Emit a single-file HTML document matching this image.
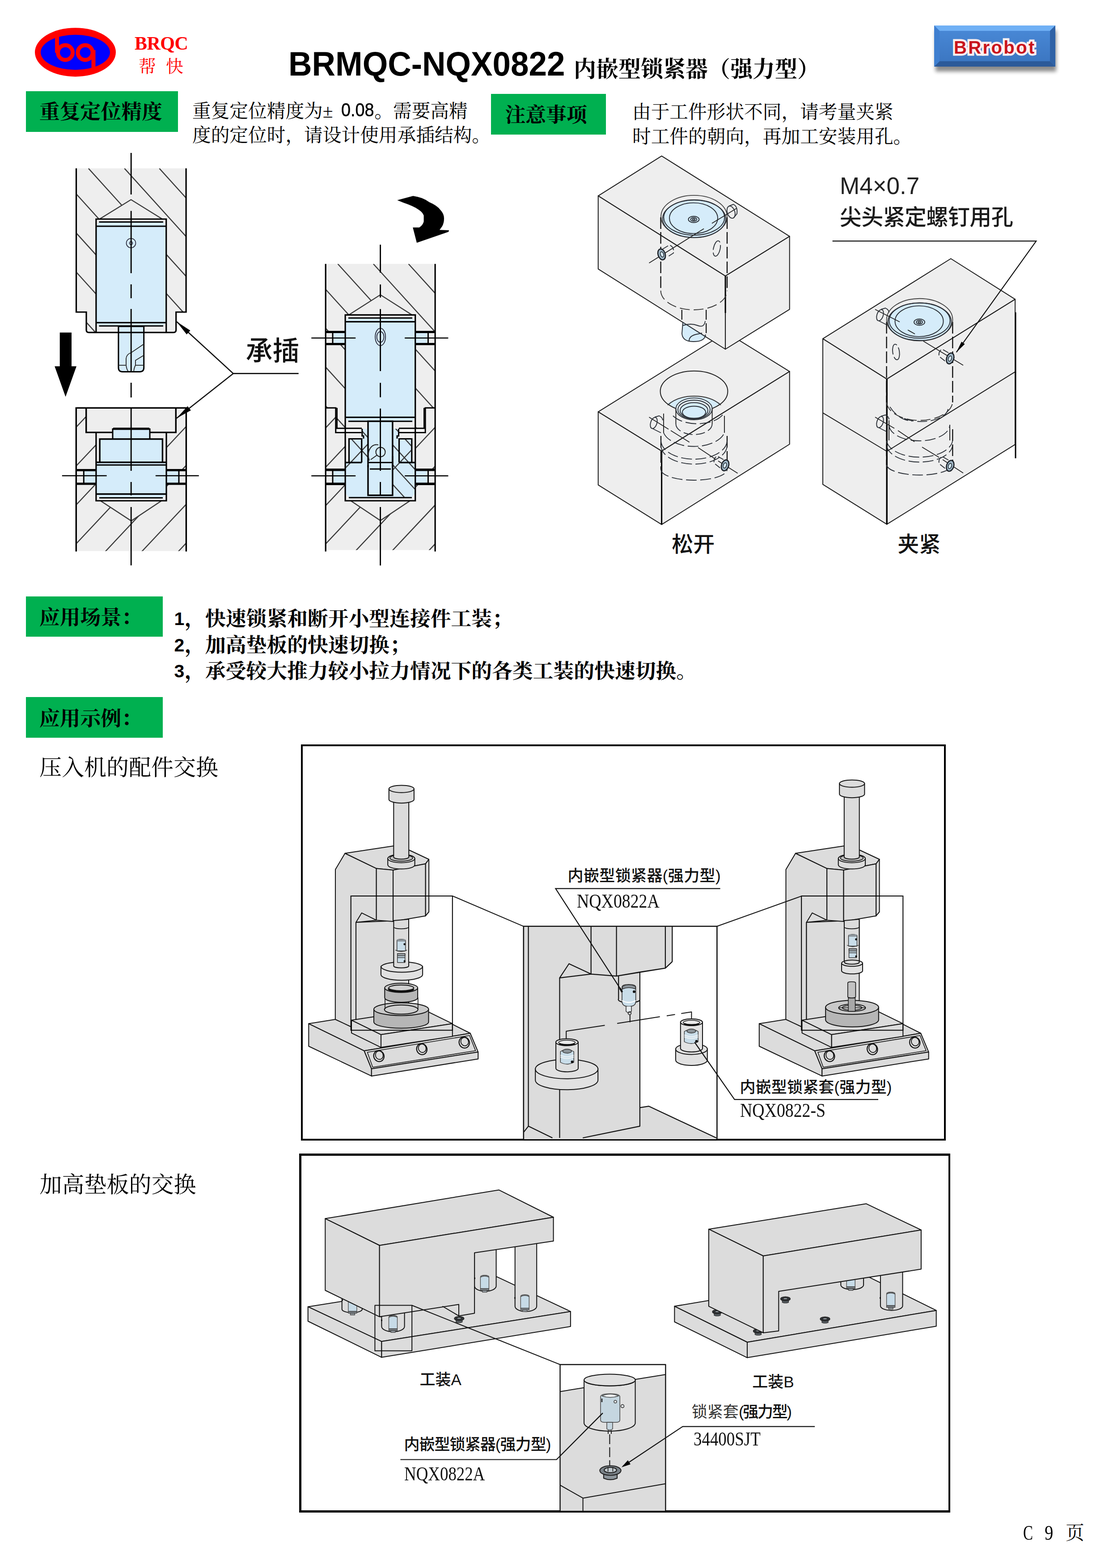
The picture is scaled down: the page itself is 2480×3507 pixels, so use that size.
<!DOCTYPE html>
<html lang="zh-CN">
<head>
<meta charset="utf-8">
<title>BRMQC-NQX0822 内嵌型锁紧器（强力型）</title>
<style>
html,body{margin:0;padding:0;background:#fff;}
body{width:2480px;height:3507px;position:relative;overflow:hidden;font-family:"Liberation Sans",sans-serif;color:#000;}
.a{position:absolute;white-space:nowrap;line-height:1;}
.se{font-family:"Liberation Serif",serif;}
.sa{font-family:"Liberation Sans",sans-serif;}
.b{font-weight:bold;}
.g{position:absolute;background:#00b050;}
.fr{position:absolute;border:4px solid #000;box-sizing:border-box;background:#fff;}
svg{position:absolute;left:0;top:0;overflow:visible;}
.cs{font-family:"Liberation Serif","Noto Serif CJK SC",serif;}
.cg{font-family:"Liberation Sans","Noto Sans CJK SC",sans-serif;font-weight:500;}
</style>
</head>
<body>

<!-- ===== header ===== -->
<svg width="2480" height="360" viewBox="0 0 2480 360">
  <defs>
    <linearGradient id="btn" x1="0" y1="0" x2="0" y2="1">
      <stop offset="0" stop-color="#4a8ad8"/><stop offset="1" stop-color="#3a74bf"/>
    </linearGradient>
    <filter id="sh" x="-10%" y="-20%" width="120%" height="160%"><feGaussianBlur stdDeviation="4"/></filter>
  </defs>
  <ellipse cx="168.5" cy="116.8" rx="90.5" ry="54.6" fill="#ff0000"/>
  <ellipse cx="168.5" cy="117" rx="77.5" ry="39.3" fill="#0000ff"/>
  <g fill="none" stroke="#ff0000" stroke-width="9">
    <circle cx="146" cy="117.5" r="16.5"/>
    <circle cx="190.5" cy="117.5" r="16.5"/>
    <path d="M127.5 80 V118"/>
    <path d="M209 112 V154"/>
  </g>
  <!-- BRrobot button -->
  <rect x="2092" y="68" width="270" height="92" fill="#000" opacity=".45" filter="url(#sh)"/>
  <rect x="2089" y="57" width="271" height="92" fill="url(#btn)"/>
  <path d="M2089 57 H2360 L2348 69 H2101 Z" fill="#6fb0f5"/>
  <path d="M2089 149 H2360 L2348 137 H2101 Z" fill="#2c5a99"/>
  <path d="M2089 57 L2101 69 V137 L2089 149 Z" fill="#3f7fd0"/>
  <path d="M2360 57 L2348 69 V137 L2360 149 Z" fill="#2f62a6"/>
</svg>
<div class="g" style="left:58px;top:204px;width:340px;height:91px;"></div>
<div class="g" style="left:1098px;top:210px;width:257px;height:91px;"></div>
<div class="g" style="left:58px;top:1334px;width:306px;height:90px;"></div>
<div class="g" style="left:58px;top:1559px;width:306px;height:91px;"></div>

<!-- ===== cross-section drawings ===== -->
<svg width="2480" height="1300" viewBox="0 0 2480 1300">
<defs>
  <clipPath id="c1u"><path clip-rule="evenodd" d="M170.5 376.6H416.1V698H393.7V743.7H193V698H170.5Z M214.9 490H371.7V743.7H214.9Z M222 490L293 446.6L363 490Z"/></clipPath>
  <clipPath id="c1l"><path clip-rule="evenodd" d="M170.3 912.4H416.4V1232.5H170.3Z M192.7 912.4H393.3V967.1H372V1120H360.5L293.5 1165L225.3 1120H214.9V967.1H192.7Z M170.3 1050.7H214.9V1082.8H170.3Z M372 1050.7H416.4V1082.8H372Z"/></clipPath>
  <clipPath id="c2u"><path clip-rule="evenodd" d="M728.2 590.3H973.1V912.3H951.1V958H928.7V704.4H920.8L850.6 659.3L780.5 704.4H772.1V958H750.8V912.3H728.2Z M728.2 740.6H772.1V770.3H728.2Z M928.7 740.6H973.1V770.3H928.7Z"/></clipPath>
  <clipPath id="c2l"><path clip-rule="evenodd" d="M728.2 912.3H750.8V967.5H772.1V1120H784.7L850.6 1164.3L916.6 1120H928.7V967.5H951.1V912.3H973.1V1230.2H728.2Z M728.2 1048.7H772.1V1084.3H728.2Z M928.7 1048.7H973.1V1084.3H928.7Z"/></clipPath>
  <clipPath id="c2s"><path clip-rule="evenodd" d="M809.8 959H823V1107.8H877.9V959H891.5V981.5H920.8V1034.5H927.5V1113H773.6V1034.5H780.5V981.5H809.8Z"/></clipPath>
</defs>

<!-- drawing 1 : upper -->
<g stroke-linejoin="miter">
<path d="M170.5 376.6H416.1V698H393.7V738Q393.7 743.7 388 743.7H198.7Q193 743.7 193 738V698H170.5Z" fill="#eeeeee"/>
<g clip-path="url(#c1u)" stroke="#3a3a3a" stroke-width="2.4">
  <path d="M-118.2 376.6l400 442.4M-39.2 376.6l400 442.4M39.8 376.6l400 442.4M118.8 376.6l400 442.4M197.8 376.6l400 442.4M278.3 376.6l400 442.4M356.3 376.6l400 442.4"/>
</g>
<path d="M222.5 490L293 446.6L363 490" fill="none" stroke="#3a3a3a" stroke-width="2.4"/>
<path d="M216 506L221.5 496.5H365L370.5 506V721.7L365 729H221.5L216 721.7Z" fill="#d5ecfa"/>
<path d="M221.5 496.5H365M221.5 729H365" stroke="#000" stroke-width="3" fill="none"/>
<path d="M214.9 506H371.7M214.9 721.7H371.7" stroke="#000" stroke-width="3.2" fill="none"/>
<path d="M264.9 730V822Q264.9 831.5 274 831.5H312.5Q321.7 831.5 321.7 822V730Z" fill="#d5ecfa" stroke="#000" stroke-width="3"/>
<path d="M264.9 816.8H281M303 816.8H321.7M303 816.8V806L321 795V770L293 789Q283 792 282 802V816.8Q283 826 287 831M299 831Q300 822 303 816.8" fill="none" stroke="#222" stroke-width="1.8"/>
<path d="M170.5 376.6V698H193V738Q193 743.7 198.7 743.7H388Q393.7 743.7 393.7 738V698H416.1V376.6" fill="none" stroke="#000" stroke-width="3.2"/>
<path d="M214.9 743.7V490H371.7V743.7" fill="none" stroke="#000" stroke-width="3.2"/>
<circle cx="293" cy="543.7" r="10.5" fill="none" stroke="#223" stroke-width="1.6"/>
<circle cx="293" cy="543.7" r="3.5" fill="none" stroke="#223" stroke-width="1.6"/>
</g>

<!-- drawing 1 : lower -->
<path d="M170.3 912.4H416.4V1232.5H170.3Z" fill="#eeeeee"/>
<g clip-path="url(#c1l)" stroke="#3a3a3a" stroke-width="2.4">
  <path d="M170.3 955.4l-100 106.5l500 -532.5M170.3 1042.3l-100 106.5l500 -532.5M170.3 1129.2l-100 106.5l500 -532.5M170.3 1216.1l-100 106.5l500 -532.5M170.3 1303l-100 106.5l500 -532.5M170.3 1389.9l-100 106.5l500 -532.5M170.3 1476.8l-100 106.5l500 -532.5"/>
</g>
<path d="M225.3 1120.5L293.5 1165L360.5 1120.5" fill="none" stroke="#3a3a3a" stroke-width="2.4"/>
<path d="M170.3 1050.7H214.9V1082.8H170.3Z M372 1050.7H416.4V1082.8H372Z" fill="#eeeeee"/>
<path d="M187.6 1052H214.9V1081H187.6Z M372 1052H399.3V1081H372Z" fill="#d5ecfa"/>
<path d="M252.5 958H334.5V981H252.5Z M223.1 982H363.4V1035H223.1Z M216 1035.2H370.9V1105L364 1113.5H223L216 1105Z" fill="#d5ecfa"/>
<path d="M253 959H334" stroke="#000" stroke-width="5" fill="none"/>
<path d="M252 958V981M335 958V981" stroke="#000" stroke-width="3" fill="none"/>
<path d="M223.1 1034V982H363.4V1034" stroke="#000" stroke-width="3.4" fill="none"/>
<path d="M214.9 1034H371.7M214.9 1105H371.7" stroke="#000" stroke-width="3.4" fill="none"/>
<path d="M214.9 1040H371.7M222 1113.5H364" stroke="#000" stroke-width="3" fill="none"/>
<path d="M170.3 1051.5H214.9M170.3 1082H214.9M372 1051.5H416.4M372 1082H416.4" stroke="#000" stroke-width="5" fill="none"/>
<path d="M187.3 1051V1083M400 1051V1083" stroke="#000" stroke-width="3" fill="none"/>
<path d="M192.7 912.4V967.1H251M336 967.1H393.3V912.4" fill="none" stroke="#000" stroke-width="3.4"/>
<path d="M214.9 967.1V1120H372V967.1" fill="none" stroke="#000" stroke-width="3.2"/>
<path d="M170.3 1233.6V912.4H416.4V1233.6" fill="none" stroke="#000" stroke-width="3.4"/>
<path d="M138.8 1064H238.6M347.9 1064H444.7" stroke="#000" stroke-width="2.6" fill="none"/>

<!-- drawing 1 : centerline + arrows + leader -->
<path d="M293.2 342V435M293.2 471.7V611M293.2 636V667M293.2 691V831M293.2 856V889M293.2 912.4V1053M293.2 1078V1108M293.2 1134V1264.6" stroke="#000" stroke-width="2.8" fill="none"/>
<path d="M133.7 743.7H160V819.3H171L146.6 887.6L122.2 819.3H133.7Z" fill="#000"/>
<path d="M667.7 835.4H521.6L394.9 719.3M521.6 835.4L394.9 935.4" fill="none" stroke="#111" stroke-width="2.6"/>
<path d="M394.9 719.3L425.5 739.2L417.4 748Z M394.9 935.4L419.5 908.4L426.900 917.800Z" fill="#000"/>

<!-- drawing 2 : upper -->
<path d="M728.2 590.3H973.1V1230.2H728.2Z" fill="#eeeeee"/>
<path d="M752 958H772.1V967.5H752Z M928.7 958H950V967.5H928.7Z" fill="#fff"/>
<g clip-path="url(#c2u)" stroke="#3a3a3a" stroke-width="2.4">
  <path d="M439.4 590.3l400 440M518.4 590.3l400 440M597.4 590.3l400 440M676.4 590.3l400 440M755.4 590.3l400 440M834.9 590.3l400 440M913.5 590.3l400 440"/>
</g>
<g clip-path="url(#c2l)" stroke="#3a3a3a" stroke-width="2.4">
  <path d="M728.2 957l-100 106.5l500 -532.5M728.2 1045l-100 106.5l500 -532.5M728.2 1130.8l-100 106.5l500 -532.5M728.2 1216.6l-100 106.5l500 -532.5M728.2 1303.5l-100 106.5l500 -532.5M728.2 1390.4l-100 106.5l500 -532.5M728.2 1477.3l-100 106.5l500 -532.5"/>
</g>
<path d="M780.5 704L850.6 659.3L920.8 704M784.7 1120.3L850.6 1164.3L916.6 1120.3" fill="none" stroke="#3a3a3a" stroke-width="2.4"/>
<!-- upper screws -->
<path d="M728.2 740.6H772.1V770.3H728.2Z M928.7 740.6H973.1V770.3H928.7Z" fill="#eeeeee"/>
<path d="M746 742H772V769H746Z M930 742H955.3V769H930Z" fill="#d5ecfa"/>
<path d="M728.2 742.5H772.1M728.2 769.5H772.1M928.7 742.5H973.1M928.7 769.5H973.1" stroke="#000" stroke-width="5" fill="none"/>
<path d="M744 741V771M957.4 741V771" stroke="#000" stroke-width="3" fill="none"/>
<!-- lower screws -->
<path d="M728.2 1048.7H772.1V1084.3H728.2Z M928.7 1048.7H973.1V1084.3H928.7Z" fill="#eeeeee"/>
<path d="M746 1050H772V1083H746Z M930 1050H955.3V1083H930Z" fill="#d5ecfa"/>
<path d="M728.2 1050.8H772.1M728.2 1082.2H772.1M928.7 1050.8H973.1M928.7 1082.2H973.1" stroke="#000" stroke-width="5.5" fill="none"/>
<path d="M744 1049V1084M957.4 1049V1084" stroke="#000" stroke-width="3" fill="none"/>
<path d="M772.1 959.5H808.8V966H772.1Z M892.5 959.5H928.7V966H892.5Z" fill="#fff"/>
<path d="M772.1 967.500H808M893 967.500H928.700" stroke="#000" stroke-width="3" fill="none"/>
<!-- lower socket -->
<path d="M809.8 959H891.5V1034.5H927.5V1104L920 1113H781L773.6 1104V1034.5H809.8Z M780.5 981.5H809.8V1034.5H780.5Z M892.5 981.5H920.8V1034.5H892.5Z" fill="#d5ecfa"/>
<g clip-path="url(#c2s)" stroke="#3a3a3a" stroke-width="2.4">
  <path d="M755.4 860l300 330M795 860l300 330M835 860l300 330M715 860l300 330M675 860l300 330"/>
  <path d="M760 1060l100 -106.5M870 1060l100 -106.5"/>
</g>
<path d="M780.5 1034.5V981.5H808.8V1034.5M892.5 1034.5V981.5H920.8V1034.5" fill="none" stroke="#000" stroke-width="3.2"/>
<path d="M772.1 1034.5H808.8M892.5 1034.5H928.7" stroke="#000" stroke-width="3.4" fill="none"/>
<path d="M809.8 959V975H813V981M891.5 959V975H888V981" fill="none" stroke="#000" stroke-width="3"/>
<path d="M780 1113H921" stroke="#000" stroke-width="3.2" fill="none"/>
<!-- upper cylinder + pin -->
<path d="M773.6 719.6L779 711.3H922L927.5 719.6V933.6L922 942.3H779L773.6 933.6Z" fill="#d5ecfa"/>
<path d="M823 942.3H877.9V1107.8H823Z" fill="#d5ecfa" stroke="#000" stroke-width="3.4"/>
<path d="M823 1034.5H877.9M827 1049H874M823 1040V1045M877.9 1020V1045" fill="none" stroke="#000" stroke-width="3"/>
<circle cx="851" cy="1011" r="10.5" fill="none" stroke="#222" stroke-width="2"/>
<path d="M846 995Q832 992 825 1008Q822 1020 826 1030M829 1028L843 1018" fill="none" stroke="#222" stroke-width="2"/>
<path d="M779 711.3H922M779 942.3H922" stroke="#000" stroke-width="3" fill="none"/>
<path d="M772.1 719.6H928.7M772.1 933.3H928.7" stroke="#000" stroke-width="3.2" fill="none"/>
<ellipse cx="850.6" cy="753.6" rx="11.5" ry="19.5" fill="none" stroke="#223" stroke-width="1.8"/>
<ellipse cx="850.6" cy="753.6" rx="8" ry="12" fill="none" stroke="#223" stroke-width="1.8"/>
<!-- outlines -->
<path d="M772.1 967.5V704.4H928.7V967.5" fill="none" stroke="#000" stroke-width="3.2"/>
<path d="M772.1 967.5V1120H928.7V967.5" fill="none" stroke="#000" stroke-width="3.2"/>
<path d="M728.2 912.3H750.8V967.5H772.1M753.5 912.3V958H809M973.1 912.3H951.1V967.5H928.7M948.5 912.3V958H892" fill="none" stroke="#000" stroke-width="3"/>
<path d="M728.2 590.3V1233.4M973.1 590.3V1233.4" fill="none" stroke="#000" stroke-width="3.2"/>
<path d="M696.3 756H795.2M905.1 756H1002.4M696.3 1064.2H795.2M905.1 1064.2H1002.4" stroke="#000" stroke-width="2.6" fill="none"/>
<path d="M850.6 547.3V610M850.6 636.3V665.6M850.6 691.2V830M850.6 856.2V888.6M850.6 913.7V1053M850.6 1078V1107.8M850.6 1134V1264.8" stroke="#000" stroke-width="2.8" fill="none"/>
<!-- curved arrow -->
<path d="M888.3 447.7L923.7 438.3Q945 441 959.8 452.1Q978 460 985.2 469.9Q993 478 993 488.7Q993 499 988.6 506.5L983 514.2L1004.1 515L1003 518.6L932 543L923.2 508.7H937.6Q946 503 947.6 495.4V482Q945 475 937.6 469.9Q931 465 922 461Q913 457 902 453.3Z" fill="#000"/>
</svg>

<!-- ===== isometric boxes ===== -->
<svg width="2480" height="1300" viewBox="0 0 2480 1300">
<g stroke="#1c1c1c" stroke-width="2" stroke-linejoin="round" fill="#eeeeee">
  <!-- lower-left box B -->
  <path d="M1337.7 921.1L1623.8 743.1L1765.7 830.9L1479.6 1008.9Z"/>
  <path d="M1337.7 921.1L1479.6 1008.9V1173.2L1337.7 1084.6Z"/>
  <path d="M1479.6 1008.9L1765.7 830.9V993.5L1479.6 1173.2Z"/>
  <!-- upper-left box A -->
  <path d="M1337.7 438.1L1479.6 348.9L1765.7 528.6L1622.1 617.3Z"/>
  <path d="M1337.7 438.1L1622.1 617.3V781L1337.7 601.6Z"/>
  <path d="M1622.1 617.3L1765.7 528.6V691.8L1622.1 781Z"/>
  <!-- right box C -->
  <path d="M1840 757.7L2126.3 578.5L2270.1 669.3L1983.2 847.9Z"/>
  <path d="M1840 757.7L1983.2 847.9V1172.7L1840 1083.4Z"/>
  <path d="M1983.2 847.9L2270.1 669.3V994.1L1983.2 1172.7Z"/>
  <path d="M1840 923.3L1983.2 1009.5L2270.1 831.6" fill="none"/>
</g>
<path d="M2271 698.6V1025" stroke="#000" stroke-width="3" fill="none"/>
<path d="M1983.2 848V1172" stroke="#000" stroke-width="3.4" fill="none"/>
<path d="M1479.6 1009V1173M1622.1 617.3V700" stroke="#000" stroke-width="3" fill="none"/>

<!-- box A details -->
<g fill="none" stroke="#2a2f36" stroke-width="1.9">
  <path d="M1527 721L1577.5 753V748Q1577 764 1551 764Q1526 764 1525 746Z" fill="#d5ecfa"/>
  <path d="M1527 728Q1545 722 1560 728T1577 718M1541 764Q1540 752 1556 748L1570 745" />
  <ellipse cx="1552" cy="484.2" rx="73.9" ry="47.3" stroke="#444"/>
  <ellipse cx="1552.3" cy="489.3" rx="70.5" ry="41.8" fill="#d5ecfa"/>
  <ellipse cx="1552.3" cy="486.5" rx="68" ry="39.5"/>
  <ellipse cx="1551" cy="488" rx="54" ry="34.4"/>
  <ellipse cx="1551.4" cy="490.7" rx="12" ry="7"/>
  <ellipse cx="1551.4" cy="490.7" rx="7" ry="4"/>
  <ellipse cx="1551.4" cy="490.7" rx="3" ry="1.6"/>
  <path d="M1477.6 486V650M1626 486V650" stroke-dasharray="26 7" stroke="#111" stroke-width="2.4"/>
  <path d="M1477.6 650A74.2 43 0 0 0 1626 650" stroke-dasharray="22 9" stroke="#333"/>
  <path d="M1524.8 693V720M1579.2 693V752" stroke-dasharray="22 8" stroke="#111" stroke-width="2.2"/>
  <ellipse cx="1603" cy="555.8" rx="7.5" ry="17.5" transform="rotate(12 1603 555.8)" stroke-dasharray="30 6"/>
  <!-- screws -->
  <path d="M1451.5 588.3L1574 511.500M1592 499.600L1648 465.6" stroke="#222" stroke-width="1.8"/>
  <ellipse cx="1479.6" cy="569" rx="8" ry="12.5" fill="#9fb6c6" stroke="#1a1f25" stroke-width="2.6" transform="rotate(-18 1479.6 569)"/>
  <ellipse cx="1480.5" cy="569" rx="3.5" ry="6" fill="#d5ecfa" stroke="#1a1f25" stroke-width="1.6" transform="rotate(-18 1480.5 569)"/>
  <path d="M1482 557L1497 548Q1508 552 1506 566L1492 575" stroke-dasharray="14 5"/>
  <ellipse cx="1634.8" cy="474.5" rx="8.5" ry="14" transform="rotate(-18 1634.8 474.5)"/>
  <path d="M1630 461L1640 457Q1650 462 1648 478L1640 488" />
</g>

<!-- box B details -->
<g fill="none" stroke="#2a2f36" stroke-width="1.9">
  <clipPath id="cB"><ellipse cx="1552" cy="875.3" rx="75.4" ry="45.5"/></clipPath>
  <ellipse cx="1552" cy="914" rx="66" ry="26" fill="#d5ecfa" stroke="none" clip-path="url(#cB)"/>
  <ellipse cx="1552" cy="875.3" rx="75.4" ry="45.5" stroke="#222" stroke-width="2"/>
  <ellipse cx="1552" cy="914.5" rx="40.6" ry="24.4" fill="#e4eff6"/>
  <ellipse cx="1552" cy="916" rx="36" ry="21"/>
  <ellipse cx="1552" cy="918" rx="31" ry="17.5" fill="#d5ecfa"/>
  <ellipse cx="1552" cy="922" rx="26" ry="13.5" fill="#d5ecfa"/>
  <path d="M1493 906Q1515 886 1552 886Q1590 886 1612 906" stroke="#333"/>
  <path d="M1511.400 914.500V948M1592.600 914.500V948" stroke="#222"/>
  <path d="M1511.4 948A40.600 24 0 0 0 1592.600 948" stroke-dasharray="20 8"/>
  <path d="M1505 930A62 34 0 0 0 1618 925" stroke-dasharray="24 8"/>
  <path d="M1484 925V968M1620 930V968" stroke="#222"/>
  <path d="M1478 975V1050M1626 975V1050" stroke-dasharray="26 8" stroke="#111" stroke-width="2.3"/>
  <path d="M1484 968A70 40 0 0 0 1620 968" stroke-dasharray="24 8"/>
  <path d="M1478 985A74 42 0 0 0 1626 985" stroke-dasharray="24 8"/>
  <path d="M1478 996A74 42 0 0 0 1626 996" stroke-dasharray="24 8"/>
  <path d="M1478 1050A74 24 0 0 0 1626 1050" stroke-dasharray="24 8"/>
  <!-- screws -->
  <path d="M1451.500 933L1495 960M1500 963L1541.700 989M1561 1001L1600 1027M1606 1031L1649.600 1058.500" stroke="#222" stroke-width="1.8"/>
  <ellipse cx="1621.5" cy="1040.8" rx="8" ry="12.500" fill="#9fb6c6" stroke="#1a1f25" stroke-width="2.6" transform="rotate(18 1621.500 1040.800)"/>
  <ellipse cx="1621" cy="1041" rx="3.500" ry="6" fill="#d5ecfa" stroke="#1a1f25" stroke-width="1.6" transform="rotate(18 1621 1041)"/>
  <path d="M1618 1028L1604 1020Q1595 1024 1597 1036L1612 1048" stroke-dasharray="14 5"/>
  <ellipse cx="1462" cy="946" rx="7" ry="13" transform="rotate(18 1462 946)"/>
  <path d="M1464 933L1474 930Q1482 934 1482 940M1460 959L1478 968" />
</g>

<!-- box C details -->
<g fill="none" stroke="#2a2f36" stroke-width="1.9">
  <ellipse cx="2056.5" cy="715" rx="73.9" ry="47.3" stroke="#444"/>
  <ellipse cx="2056.5" cy="719.5" rx="70.8" ry="42" fill="#d5ecfa"/>
  <ellipse cx="2056.5" cy="717" rx="68" ry="39.500"/>
  <ellipse cx="2055.5" cy="718.5" rx="54" ry="34.4"/>
  <ellipse cx="2056" cy="720.5" rx="12" ry="7"/>
  <ellipse cx="2056" cy="720.5" rx="7" ry="4"/>
  <ellipse cx="2056" cy="720.5" rx="3" ry="1.600"/>
  <path d="M1982.600 720V900M2130.300 720V900" stroke-dasharray="26 7" stroke="#111" stroke-width="2.4"/>
  <path d="M1982.600 900A74 43 0 0 0 2130.300 900" stroke-dasharray="22 9" stroke="#333"/>
  <ellipse cx="2003.800" cy="787.2" rx="7.500" ry="17.500" transform="rotate(-8 2003.800 787.200)" stroke-dasharray="30 6"/>
  <!-- lower hidden -->
  <path d="M1990 910Q2010 940 2040 942M2022 936A60 30 0 0 0 2120 915" stroke-dasharray="22 8"/>
  <path d="M1988 940V985M2124 950V985" stroke="#222"/>
  <path d="M1988 950A68 36 0 0 0 2124 950" stroke-dasharray="24 8"/>
  <path d="M1982.600 985A74 40 0 0 0 2130.300 985" stroke-dasharray="24 8"/>
  <path d="M1982.600 996A74 40 0 0 0 2130.300 996" stroke-dasharray="24 8"/>
  <path d="M1982.600 960V1040M2130.300 960V1040" stroke-dasharray="26 8" stroke="#111" stroke-width="2.3"/>
  <path d="M1982.600 1040A74 24 0 0 0 2130.300 1040" stroke-dasharray="24 8"/>
  <!-- screws upper -->
  <path d="M1957 692L2012 720M2030 738L2046 747M2064.800 763L2154 817" stroke="#222" stroke-width="1.8"/>
  <ellipse cx="2124.8" cy="801.7" rx="8" ry="12.5" fill="#9fb6c6" stroke="#1a1f25" stroke-width="2.6" transform="rotate(18 2124.800 801.700)"/>
  <ellipse cx="2124.3" cy="802" rx="3.5" ry="6" fill="#d5ecfa" stroke="#1a1f25" stroke-width="1.6" transform="rotate(18 2124.300 802)"/>
  <path d="M2121 789L2107 781Q2098 785 2100 797L2115 809" stroke-dasharray="14 5"/>
  <ellipse cx="1968" cy="705" rx="7" ry="13" transform="rotate(18 1968 705)"/>
  <path d="M1970 692L1980 689Q1988 693 1988 699M1966 718L1982 726" />
  <!-- screws lower -->
  <path d="M1957 933L2000 958M2008 963L2045 988M2062 1000L2100 1023M2108 1028L2154 1058" stroke="#222" stroke-width="1.8"/>
  <ellipse cx="2124.8" cy="1041.9" rx="8" ry="12.5" fill="#9fb6c6" stroke="#1a1f25" stroke-width="2.6" transform="rotate(18 2124.800 1041.900)"/>
  <ellipse cx="2124.3" cy="1042.2" rx="3.5" ry="6" fill="#d5ecfa" stroke="#1a1f25" stroke-width="1.6" transform="rotate(18 2124.300 1042.200)"/>
  <path d="M2121 1029L2107 1021Q2098 1025 2100 1037L2115 1049" stroke-dasharray="14 5"/>
  <ellipse cx="1968" cy="944" rx="7" ry="13" transform="rotate(18 1968 944)"/>
  <path d="M1970 931L1980 928Q1988 932 1988 938M1966 957L1982 965" />
</g>
<!-- leader -->
<path d="M1861.6 539.1H2317.2L2138.7 787.9" fill="none" stroke="#111" stroke-width="2.2"/>
<path d="M2138.7 787.9L2150.2 764.2L2157.5 769.4Z" fill="#000"/>
</svg>

<div class="fr" style="left:673px;top:1665px;width:1442px;height:886px;"></div>
<div class="fr" style="left:669px;top:2580px;width:1456px;height:803px;border-width:5px 4px 5px 5px;"></div>
<!-- ===== press machine drawing ===== -->
<svg width="2480" height="3507" viewBox="0 0 2480 3507">
<defs><g id="press" stroke="#111" stroke-width="2" stroke-linejoin="round" fill="#dcdcdc">
<path d="M690.3 2289.6L749.8 2280.0L959.0 2262.0L1051.6 2311.0L814.5 2350.3Z" stroke="none"/>
<path d="M749.8 2280.0L690.3 2289.6L814.5 2350.3L1051.6 2311.0L1011.8 2290.9" fill="none"/>
<path d="M690.3 2289.6L690.3 2340.0L830.8 2406.7L830.8 2390.4L814.5 2350.3Z"/>
<path d="M814.5 2350.3L1051.6 2311.0L1069.2 2352.9L830.8 2390.4Z"/>
<path d="M830.8 2390.4L1069.2 2352.9L1069.2 2368.4L830.8 2406.7Z"/>
<path d="M821.5 2353.5L1050.0 2316.0L1063.5 2350.0L833.5 2387.0Z" fill="none" stroke-width="1.6"/>
<ellipse cx="847.3" cy="2362" rx="11.5" ry="12.5" transform="rotate(-20 847.3 2362)" stroke-width="2.2"/>
<ellipse cx="848.8" cy="2360.5" rx="8.5" ry="9.5" transform="rotate(-20 847.3 2362)" stroke-width="1.8"/>
<ellipse cx="943.3" cy="2346.5" rx="11.5" ry="12.5" transform="rotate(-20 943.3 2346.5)" stroke-width="2.2"/>
<ellipse cx="944.8" cy="2345.0" rx="8.5" ry="9.5" transform="rotate(-20 943.3 2346.5)" stroke-width="1.8"/>
<ellipse cx="1038.2" cy="2331.7" rx="11.5" ry="12.5" transform="rotate(-20 1038.2 2331.7)" stroke-width="2.2"/>
<ellipse cx="1039.7" cy="2330.2" rx="8.5" ry="9.5" transform="rotate(-20 1038.2 2331.7)" stroke-width="1.8"/>
<path d="M750.0 1944.7L771.5 1908.5L841.7 1942.4L841.7 2058.2L796.0 2062.9L796.0 2290.0L786.0 2297.0L749.8 2280.0Z"/>
<path d="M841.7 2058.2L808.9 2041.8L796.0 2062.9" fill="none"/>
<path d="M796.0 2062.9L914.0 2058.0L914.0 2262.0L796.0 2281.0Z"/>
<path d="M786.0 2281.8L945.8 2257.3L1011.8 2289.6L852.0 2314.1Z"/>
<path d="M852.0 2314.1L1011.8 2289.6L1011.8 2318.0L852.0 2342.6Z"/>
<path d="M786.0 2281.8L852.0 2314.1L852.0 2342.6L786.0 2310.3Z"/>
<path d="M771.5 1908.5L880.3 1892.1L915.4 1901.5L959.1 1922.0L951.7 1931.9L879.1 1945.9L841.7 1942.4Z"/>
<path d="M841.7 1942.4L879.1 1945.9L879.1 2061.0L841.7 2058.2Z"/>
<path d="M879.1 1945.9L951.7 1931.9L951.7 2048.4L879.1 2061.0Z"/>
<path d="M951.7 1931.9L959.1 1922.0L959.1 2039.5L951.7 2048.4Z"/>
<path d="M867.2 1920.2V1934.2A30.2 9.4 0 0 0 927.6 1934.2V1920.2Z" fill="#dcdcdc"/><ellipse cx="897.4" cy="1920.2" rx="30.2" ry="9.4" fill="#dcdcdc"/>
<ellipse cx="897.4" cy="1919" rx="25.5" ry="7.2" fill="#bdbdbd" stroke-width="1.8"/>
</g></defs>
<g transform="translate(0 0)"><use href="#press"/><g stroke="#111" stroke-width="2" stroke-linejoin="round" fill="#dcdcdc"><path d="M880.3 1789.6V1917A17 5 0 0 0 914.2 1917V1789.6Z"/><path d="M869.7 1764.6V1788.0A28.1 8.2 0 0 0 925.9 1788.0V1764.6Z" fill="#dcdcdc"/><ellipse cx="897.8" cy="1764.6" rx="28.1" ry="8.2" fill="#dcdcdc"/><path d="M880.4 2059V2161A17 4.5 0 0 0 914 2161V2056Z"/><path d="M880.4 2073.6A17 4.5 0 0 0 914 2073.6" fill="none" stroke-width="1.6"/><path d="M851.9 2161.6V2179.7A46.6 12.9 0 0 0 945.1 2179.7V2161.6A46.6 12.9 0 0 1 914 2171V2161A17 4.5 0 0 1 880.4 2161V2170.5A46.6 12.9 0 0 1 851.9 2161.6Z" fill="#e1e1e1"/><path d="M880.4 2152.5A46.6 12.9 0 0 0 851.9 2161.6A46.6 12.9 0 0 0 945.1 2161.6A46.6 12.9 0 0 0 914 2152" fill="#e1e1e1"/><path d="M880.4 2150V2161A17 4.5 0 0 0 914 2161V2150" fill="#dcdcdc"/><path d="M836.0 2257.2V2285.6A61.2 14.2 0 0 0 958.4 2285.6V2257.2Z" fill="#b6b6b6"/><ellipse cx="897.2" cy="2257.2" rx="61.2" ry="14.2" fill="#c9c9c9"/><ellipse cx="897.2" cy="2258" rx="37.5" ry="10.3" fill="#cfcfcf"/><path d="M861 2231V2257M934.700 2231V2257" stroke-width="1.6" fill="none"/><path d="M860.3 2209.4V2231.4A36.9 10.3 0 0 0 934.1 2231.4V2209.4Z" fill="#b6b6b6"/><ellipse cx="897.2" cy="2209.4" rx="36.9" ry="10.3" fill="#c9c9c9"/><ellipse cx="897.2" cy="2209.5" rx="28" ry="6.5" fill="#d2d2d2"/><path d="M869 2211A28 6.500 0 0 0 925 2212" stroke-width="3.4" fill="none"/><g stroke="#333" stroke-width="1.4"><path d="M887.7 2103.8Q887.7 2100.8 897.2 2100.8Q906.7 2100.8 906.7 2103.8V2126.8H887.7Z" fill="#c9dde9"/><path d="M888.2 2100.8h18v5h-18z" fill="#8c949a" stroke="none"/><path d="M884.2 2124.8Q897.2 2131.8 910.2 2124.8" fill="none"/><path d="M888.7 2132.8h17v20h-17z" fill="#c9dde9"/><path d="M888.7 2132.8h17v5h-17zM888.7 2141.8h17" fill="#9aa2a8"/><circle cx="904.7" cy="2111.8" r="2.4" fill="#111" stroke="none"/><circle cx="904.7" cy="2149.8" r="2.2" fill="#111" stroke="none"/></g></g><path d="M784.7 2003.9H1011.8V2304.3H784.7Z" fill="none" stroke="#000" stroke-width="2"/></g>
<g transform="translate(1007.5 0)"><use href="#press"/><g stroke="#111" stroke-width="2" stroke-linejoin="round" fill="#dcdcdc"><path d="M880.3 1777.6V1917A17 5 0 0 0 914.2 1917V1777.6Z"/><path d="M869.7 1752.6V1776.0A28.1 8.2 0 0 0 925.9 1776.0V1752.6Z" fill="#dcdcdc"/><ellipse cx="897.8" cy="1752.6" rx="28.1" ry="8.2" fill="#dcdcdc"/><path d="M880.4 2059V2150H914V2056Z"/><path d="M880.4 2073.6A17 4.5 0 0 0 914 2073.6" fill="none" stroke-width="1.6"/><path d="M874.5 2154.3V2171.3A23.5 7 0 0 0 921.5 2171.3V2154.3Z" fill="#e1e1e1"/><ellipse cx="898.0" cy="2154.3" rx="23.5" ry="7" fill="#e1e1e1"/><path d="M881 2150V2153A17 4.5 0 0 0 914 2153V2150" fill="#dcdcdc"/><path d="M838.7 2253.1V2281.1A59.3 15.7 0 0 0 957.3 2281.1V2253.1Z" fill="#b6b6b6"/><ellipse cx="898.0" cy="2253.1" rx="59.3" ry="15.7" fill="#c9c9c9"/><ellipse cx="898" cy="2254" rx="30" ry="8" fill="#d6d6d6"/><ellipse cx="898" cy="2254" rx="22" ry="5.5" fill="#d6d6d6" stroke-width="1.6"/><path d="M868 2254H928M898 2246V2262" stroke-width="1.6" fill="none"/><path d="M889.5 2232V2262H905V2232Z" fill="#a8a8a8" stroke-width="1.4"/><path d="M888.3 2198.2V2229.6A8.8 2.5 0 0 0 905.9 2229.6V2198.2A8.8 2.5 0 0 0 888.3 2198.2Z" fill="#c2c2c2" stroke-width="1.6"/><g stroke="#333" stroke-width="1.4"><path d="M890.0 2093Q890.0 2090 899.5 2090Q909.0 2090 909.0 2093V2116H890.0Z" fill="#c9dde9"/><path d="M890.5 2090h18v5h-18z" fill="#8c949a" stroke="none"/><path d="M886.5 2114Q899.5 2121 912.5 2114" fill="none"/><path d="M891.0 2122h17v20h-17z" fill="#c9dde9"/><path d="M891.0 2122h17v5h-17zM891.0 2131h17" fill="#9aa2a8"/><circle cx="907.0" cy="2101" r="2.4" fill="#111" stroke="none"/><circle cx="907.0" cy="2139" r="2.2" fill="#111" stroke="none"/></g></g><path d="M784.7 2003.9H1011.8V2304.3H784.7Z" fill="none" stroke="#000" stroke-width="2"/></g>
<!-- central detail panel -->
<g stroke="#111" stroke-width="2.2" stroke-linejoin="round" fill="none">
  <path d="M1170.8 2071.8H1503.3V2150.9L1487.9 2165.4L1430.9 2174V2477.3L1451 2474.2L1601.800 2545V2548H1170.8Z" fill="#dcdcdc" stroke="none"/>
  <!-- leader lines from detail rects -->
  <path d="M1011.8 2003.9L1170.8 2071.8M1603.4 2071.8L1793.3 2003.9" stroke-width="2"/>
  <!-- panel outline -->
  <path d="M1170.8 2548V2071.8H1603.4V2548" stroke-width="2.6"/>
  <!-- vertical edges of head -->
  <path d="M1181.6 2071.8V2518.8M1321.7 2071.8V2178.6M1378.6 2071.8V2183.2M1487.9 2071.8V2165.4M1503.3 2071.8V2150.9"/>
  <path d="M1503.3 2150.9L1487.9 2165.4L1378.6 2183.2L1321.7 2178.6L1272.4 2155.500L1251.500 2187.2L1321.700 2178.600M1378.600 2183.200L1430.900 2174L1487.900 2165.400"/>
  <path d="M1251.500 2187.2V2545"/>
  <path d="M1430.9 2174V2518.8L1303.200 2545"/>
  <path d="M1430.900 2477.300L1451 2474.200L1601.800 2545"/>
  <path d="M1170.800 2532.7L1181.600 2518.8L1235.400 2545"/>
  <!-- shaft stub -->
  <path d="M1383.2 2183.2V2234A23.8 7 0 0 0 1430.9 2237" />
  <!-- alignment chain line -->
  <path d="M1266.2 2323.3V2306.4L1352.500 2293.200M1380.200 2289L1475.600 2274M1491 2271.900L1509.500 2269M1523.300 2266.800L1546.400 2263.300V2278.700" stroke-width="2"/>
  <path d="M1408.800 2269.400V2286.400" stroke-width="2"/>
</g>
<!-- blue locker in center -->
<g stroke="#333" stroke-width="1.6">
  <path d="M1391 2208Q1391 2201.700 1406 2201.700Q1421.700 2201.700 1421.700 2208V2240Q1421.700 2251 1406 2251Q1391 2251 1391 2240Z" fill="#c9dde9"/>
  <path d="M1392 2206Q1406 2199 1421 2206V2212Q1406 2206 1392 2212Z" fill="#8d959b"/>
  <path d="M1391 2238Q1406 2246 1421.700 2238" fill="none" stroke="#fff" stroke-width="2.5"/>
  <path d="M1400 2251V2262Q1406 2268 1412 2262V2251" fill="#e8eef2"/>
  <circle cx="1418" cy="2218" r="3" fill="#111" stroke="none"/>
  <path d="M1386 2210L1391.500 2219" stroke="#111" stroke-width="4"/>
  <circle cx="1408" cy="2266" r="3.500" fill="none" stroke="#222"/>
</g>
<!-- left socket on disc -->
<g stroke="#111" stroke-width="2" fill="#dcdcdc">
  <path d="M1197.2 2391.1V2415.7A70 21.6 0 0 0 1337.2 2415.7V2391.1Z" fill="#e1e1e1"/>
  <ellipse cx="1267.200" cy="2391.1" rx="70" ry="21.6" fill="#e1e1e1"/>
  <path d="M1243.1 2331V2389.5A24.9 7.7 0 0 0 1293 2389.5V2331Z" fill="#dedede"/>
  <ellipse cx="1267.800" cy="2331" rx="24.9" ry="7.7" fill="#e6e6e6"/>
  <ellipse cx="1267.800" cy="2331.500" rx="18.5" ry="5" fill="#ececec" stroke-width="1.6"/>
  <path d="M1251 2334A18.500 5 0 0 0 1285 2334" fill="none" stroke-width="3.600"/>
  <g stroke="#333" stroke-width="1.4">
    <path d="M1253.300 2352Q1268 2343 1283.200 2352V2376Q1268 2384 1253.300 2376Z" fill="#c9dde9"/>
    <ellipse cx="1268.200" cy="2351" rx="10" ry="4.500" fill="#8d959b"/>
    <path d="M1253.300 2360Q1268 2367 1283.200 2360M1253.300 2364Q1268 2371 1283.200 2364" fill="none" stroke="#eef3f6" stroke-width="2"/>
    <circle cx="1279.500" cy="2375" r="3" fill="#111" stroke="none"/>
  </g>
</g>
<!-- right socket on small base -->
<g stroke="#111" stroke-width="2" fill="#dcdcdc">
  <path d="M1511 2346.4V2371A35.4 12 0 0 0 1581.800 2371V2346.4Z" fill="#e1e1e1"/>
  <ellipse cx="1546.400" cy="2346.4" rx="35.4" ry="12" fill="#e1e1e1"/>
  <path d="M1521.800 2286.4V2345A24.6 7.700 0 0 0 1571 2345V2286.400Z" fill="#e3e3e3"/>
  <ellipse cx="1546.400" cy="2286.400" rx="24.600" ry="7.700" fill="#e6e6e6"/>
  <ellipse cx="1546.400" cy="2287" rx="18.500" ry="5" fill="#ececec" stroke-width="1.600"/>
  <path d="M1530 2289.500A18.500 5 0 0 0 1563 2289.500" fill="none" stroke-width="3.600"/>
  <g stroke="#333" stroke-width="1.400">
    <path d="M1530.400 2307Q1546 2298 1561.200 2307V2330Q1546 2338 1530.400 2330Z" fill="#c9dde9"/>
    <ellipse cx="1546" cy="2306" rx="10" ry="4.500" fill="#8d959b"/>
    <path d="M1530.400 2315Q1546 2322 1561.200 2315M1530.400 2319Q1546 2326 1561.200 2319" fill="none" stroke="#eef3f6" stroke-width="2"/>
    <circle cx="1557.500" cy="2329" r="3" fill="#111" stroke="none"/>
  </g>
</g>
<!-- label leaders -->
<g stroke="#111" stroke-width="2.2" fill="none">
  <path d="M1610.600 1987.3H1242.400L1390.900 2217.100"/>
  <path d="M1964 2459.100H1642.600L1553.300 2331" />
</g>

</svg>
<!-- ===== raised pad drawing ===== -->
<svg width="2480" height="3507" viewBox="0 0 2480 3507" id="padSvg">
<defs>
  <g id="lk" stroke="#444" stroke-width="1.3">
    <path d="M-9.500 -14Q-9.500 -18 0 -18Q9.500 -18 9.500 -14V12H-9.500Z" fill="#c7dbe7"/>
    <path d="M-9.500 -14Q0 -19 9.500 -14" fill="none" stroke="#555" stroke-width="2.4"/>
    <path d="M-9.500 12H9.500V16H-9.500Z" fill="#7d858b"/>
    <path d="M-5 16H5V20H-5Z" fill="#9aa3a9"/>
  </g>
  <g id="bush2" stroke="#222" stroke-width="1">
    <path d="M-7 3V8Q0 11 7 8V3" fill="#8d959b"/>
    <ellipse cx="0" cy="0" rx="11" ry="5" fill="#7a8288"/>
    <ellipse cx="0" cy="-.5" rx="6.500" ry="2.800" fill="#c0c8cd"/>
    <path d="M-2.500 -3.500V1M2.500 -3.500V1" stroke-width=".8"/>
  </g>
  <g id="bush" stroke="#222" stroke-width="1.2">
    <path d="M-7 3V8Q0 11 7 8V3" fill="#5b6267"/>
    <ellipse cx="0" cy="0" rx="11" ry="5" fill="#2e3134"/>
    <ellipse cx="0" cy="-.5" rx="5" ry="2.200" fill="#8a9298"/>
  </g>
</defs>
<g stroke="#111" stroke-width="2" stroke-linejoin="round" fill="#dcdcdc">
  <!-- ===== tooling A ===== -->
  <!-- base plate -->
  <path d="M688.7 2922.7L1111.1 2855.7L1275.9 2933.3L853.4 3000.3Z"/>
  <path d="M688.7 2922.7L853.4 3000.3V3035.8L688.7 2955Z"/>
  <path d="M853.4 3000.3L1275.9 2933.3V2966.8L853.4 3035.8Z"/>
  <!-- posts -->
  <path d="M764.7 2890V2928A22.6 8 0 0 0 810 2928V2890Z"/>
  <path d="M1061.1 2795V2876.2A24.2 11.8 0 0 0 1109.600 2876.2V2790Z"/>
  <path d="M1151.7 2779.6V2921.5A24.2 11.8 0 0 0 1200.2 2921.5V2775Z"/>
  <use href="#lk" x="788.4" y="2921" stroke="none"/>
  <use href="#lk" x="1083.9" y="2870.2"/>
  <use href="#lk" x="1173.8" y="2913.6"/>
  <!-- block -->
  <path d="M727.3 2725.6L1115.5 2661.4L1237.6 2722.5L848.7 2785.5Z"/>
  <path d="M727.3 2725.6L848.7 2785.5V2945.1L727.3 2886Z"/>
  <path d="M853.4 2941.2V2966.8A25.6 11.8 0 0 0 904.6 2966.8V2930Z"/>
  <use href="#lk" x="879" y="2960"/>
  <path d="M848.7 2785.5L1237.6 2722.5V2775.7L1061.1 2802.1V2937.2L1026 2943.2V2917.5L848.7 2945.1Z"/>
  <path d="M989.400 2921.500L1026 2943.200" fill="none"/>
  <path d="M848.7 2945.1L853.4 2945.100" fill="none"/>
  <use href="#bush" x="1026.8" y="2949"/>
  <path d="M1060 2859h3M1150 2903h3M852 2953h3M764 2908h3" stroke-width="3"/>
  <!-- detail rectangle + leader -->
  <path d="M838.4 2919.5H921.2V3021.2H838.4Z" fill="none"/>
  <path d="M921.2 2919.5L1252.5 3052" fill="none"/>

  <!-- ===== tooling B ===== -->
  <path d="M1508.4 2921.6L1931.1 2850.4L2093.7 2930.9L1671 3002Z"/>
  <path d="M1508.4 2921.6L1671 3002V3036.6L1508.4 2956.5Z"/>
  <path d="M1671 3002L2093.7 2930.9V2966.3L1671 3036.6Z"/>
  <!-- posts -->
  <path d="M1880.300 2850V2874A25.400 10.200 0 0 0 1931.100 2874V2845Z"/>
  <path d="M1968.9 2845.6V2920.7A24.8 10.200 0 0 0 2018.5 2920.700V2840Z"/>
  <use href="#lk" x="1902.700" y="2866" />
  <use href="#lk" x="1992.100" y="2908"/>
  <use href="#bush" x="1604" y="2934"/>
  <use href="#bush" x="1695.400" y="2977"/>
  <!-- block -->
  <path d="M1584.9 2749.2L1937.2 2692.3L2059.9 2750.9L1706.8 2809Z"/>
  <path d="M1584.9 2749.2L1706.8 2809V2980.9L1584.900 2921.6Z"/>
  <path d="M1706.8 2809L2059.9 2750.9V2838.6L1741.3 2888.2V2976.8L1706.8 2980.9Z"/>
  <use href="#bush" x="1756.400" y="2905"/>
  <use href="#bush" x="1845" y="2950"/>
  <path d="M1967 2903h3" stroke-width="3"/>

  <!-- ===== detail panel ===== -->
  <path d="M1252.5 3112.4L1488.4 3074.200V3379H1252.500Z" stroke="none"/>
  <path d="M1252.500 3112.400L1488.400 3074.200M1252.500 3321.700L1303.600 3350.700L1488.400 3318.600M1303.600 3350.700V3379" fill="none"/>
  <path d="M1252.5 3379V3052H1488.4V3379" fill="none" stroke-width="2.4"/>
  <path d="M1306.100 3086.500V3183.2A57.300 18.500 0 0 0 1420.600 3183.200V3086.500Z" fill="#e0e0e0"/>
  <ellipse cx="1363.400" cy="3086.500" rx="57.300" ry="13" fill="#e0e0e0"/>
  <path d="M1309 3091A57.300 13 0 0 0 1418 3091" fill="none" stroke-width="1.600"/>
  <g stroke="#444" stroke-width="1.500">
    <path d="M1343 3124Q1343 3117.300 1364.500 3117.300Q1386.200 3117.300 1386.200 3124V3176Q1386.200 3181.300 1376 3181.300H1353Q1343 3181.300 1343 3176Z" fill="#c5d6e0"/>
    <path d="M1346 3122Q1364.500 3114 1383.500 3122Q1364.500 3129 1346 3122Z" fill="#eef2f4"/>
    <path d="M1357 3181.300V3196Q1363.500 3201 1370 3196V3181.300Z" fill="#c5d6e0"/>
    <path d="M1360 3199V3207M1367 3199V3207" stroke="#222" stroke-width="2"/>
    <circle cx="1376" cy="3135" r="3" fill="#e8eef2"/>
    <circle cx="1392" cy="3145" r="3.500" fill="#e8eef2" stroke="#222"/>
    <path d="M1346 3128v8M1346 3128" stroke="#222" stroke-width="2.500"/>
  </g>
  <path d="M1363.400 3208V3281" fill="none" stroke-dasharray="22 7" stroke-width="2"/>
  <g transform="translate(1365 3289) scale(2.150)"><use href="#bush2"/></g>
  <!-- labels leaders -->
  <path d="M895.400 3264.500H1244.500L1348 3160.400" fill="none" stroke-width="2.200"/>
  <path d="M1822.100 3190.600H1526.600L1393 3279.500" fill="none" stroke-width="2.200"/>
  <path d="M1389.900 3281.700L1404 3266L1410 3275Z" fill="#000" stroke="none"/>
</g>
</svg>

<!-- ===== latin text (Liberation fonts) ===== -->
<div class="a se b" style="left:301px;top:76px;font-size:42px;color:#ff0000;letter-spacing:-.5px;">BRQC</div>
<div class="a sa b" style="left:2133px;top:86px;font-size:40px;letter-spacing:3.4px;color:#c8141c;-webkit-text-stroke:9px #fdf0f0;">BRrobot</div>
<div class="a sa b" style="left:2133px;top:86px;font-size:40px;letter-spacing:3.4px;color:#c8141c;">BRrobot</div>
<div class="a sa b" style="left:645px;top:104.5px;font-size:76px;transform-origin:0 0;transform:scaleX(.957);">BRMQC-NQX0822</div>
<div class="a sa" style="left:763px;top:225px;font-size:42.5px;transform-origin:0 0;transform:scaleX(.89);-webkit-text-stroke:.5px #000;">0.08</div>
<div class="a sa b" style="left:389.5px;top:1364px;font-size:41px;">1</div>
<div class="a sa b" style="left:389.5px;top:1422.5px;font-size:41px;">2</div>
<div class="a sa b" style="left:389.5px;top:1480.5px;font-size:41px;">3</div>
<div class="a sa" style="left:1878px;top:389px;font-size:53px;color:#222;">M4×0.7</div>
<div class="a se" style="left:1290px;top:1993px;font-size:45px;color:#111;transform-origin:0 0;transform:scaleX(.84);">NQX0822A</div>
<div class="a se" style="left:1655px;top:2461px;font-size:45px;color:#111;transform-origin:0 0;transform:scaleX(.84);">NQX0822-S</div>
<div class="a se" style="left:904px;top:3274px;font-size:45px;color:#111;transform-origin:0 0;transform:scaleX(.82);">NQX0822A</div>
<div class="a se" style="left:1551px;top:3196px;font-size:45px;color:#111;transform-origin:0 0;transform:scaleX(.82);">34400SJT</div>
<div class="a se" style="left:2288px;top:3405px;font-size:47px;transform-origin:0 0;transform:scaleX(.7);">C</div>
<div class="a se" style="left:2336px;top:3405px;font-size:47px;transform-origin:0 0;transform:scaleX(.82);">9</div>

<!-- ===== CJK text (real text) ===== -->
<svg width="2480" height="3507" viewBox="0 0 2480 3507">
<g class="cs" fill="#ff0000" font-size="39">
  <text x="310" y="161.800">帮</text>
  <text x="371" y="161.800">快</text>
</g>
<g class="cs" fill="#000" font-weight="bold">
  <text x="1283" y="171.500" font-size="50">内嵌型锁紧器（强力型）</text>
  <text x="88" y="265.900" font-size="45.800">重复定位精度</text>
  <text x="1129.500" y="273.400" font-size="45.800">注意事项</text>
  <text x="88" y="1397.400" font-size="45.800">应用场景：</text>
  <text x="88" y="1623.400" font-size="45.800">应用示例：</text>
  <text x="413.200" y="1400.400" font-size="45.800">，快速锁紧和断开小型连接件工装；</text>
  <text x="413.200" y="1458.900" font-size="45.800">，加高垫板的快速切换；</text>
  <text x="413.200" y="1516.900" font-size="45.800">，承受较大推力较小拉力情况下的各类工装的快速切换。</text>
</g>
<g class="cs" fill="#000">
  <text x="430" y="262.700" font-size="41.700">重复定位精度为±</text>
  <text x="837.300" y="262.700" font-size="41.700">。需要高精</text>
  <text x="430" y="316.900" font-size="41.700">度的定位时，请设计使用承插结构。</text>
  <text x="1414" y="265.300" font-size="41.700">由于工件形状不同，请考量夹紧</text>
  <text x="1414" y="319.500" font-size="41.700">时工件的朝向，再加工安装用孔。</text>
  <text x="88" y="1734" font-size="50">压入机的配件交换</text>
  <text x="88.500" y="2666.600" font-size="50">加高垫板的交换</text>
  <text x="2383" y="3443.400" font-size="41.700">页</text>
</g>
<g class="cg" fill="#111">
  <text x="549.500" y="805.800" font-size="60">承插</text>
  <text x="1877.800" y="502.900" font-size="49" fill="#1a1a1a" textLength="388" lengthAdjust="spacing">尖头紧定螺钉用孔</text>
  <text x="1502.200" y="1233.900" font-size="48">松开</text>
  <text x="2007.200" y="1233.900" font-size="48">夹紧</text>
  <text x="1269.600" y="1970.800" font-size="35" textLength="342" lengthAdjust="spacing">内嵌型锁紧器(强力型)</text>
  <text x="1654.500" y="2444.300" font-size="35" textLength="340" lengthAdjust="spacing">内嵌型锁紧套(强力型)</text>
  <text x="938.500" y="3098" font-size="35">工装A</text>
  <text x="1682.200" y="3102.800" font-size="35">工装B</text>
  <text x="903.400" y="3242.600" font-size="35" textLength="329" lengthAdjust="spacing">内嵌型锁紧器(强力型)</text>
  <text x="1546.700" y="3170.300" font-size="35" fill="#333" font-weight="normal">锁紧套</text>
  <text x="1652" y="3170.300" font-size="35" textLength="119" lengthAdjust="spacing">(强力型)</text>
</g>
</svg>
</body>
</html>
